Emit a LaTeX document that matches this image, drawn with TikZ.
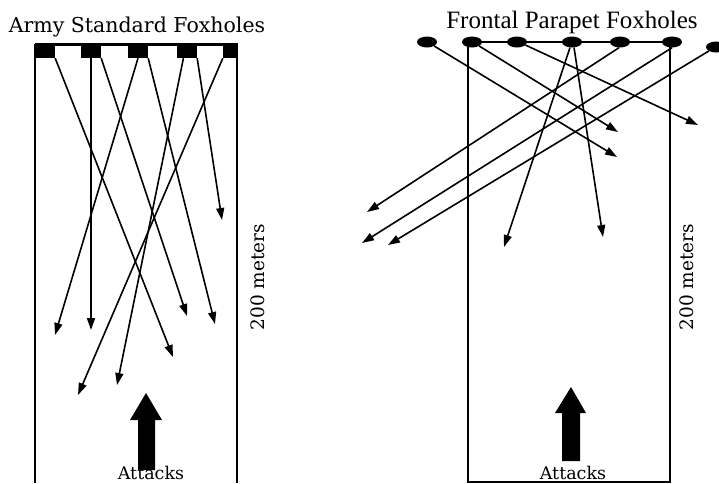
\documentclass[tikz,border=0pt]{standalone}
\usepackage{fontspec}
\setmainfont{DejaVu Serif}
\newfontfamily\timesfont{Liberation Serif}
\usetikzlibrary{arrows.meta,shapes.geometric}

\begin{document}
\begin{tikzpicture}[x=1pt,y=-1pt,
    hole/.style={fill=black,inner sep=0pt,minimum width=20pt,minimum height=15pt},
    pit/.style={ellipse,fill=black,inner sep=0pt,minimum width=20pt,minimum height=11pt},
    shot/.style={line width=1.6pt,-{Triangle[length=12pt,width=8pt]}},
    wall/.style={line width=1.5pt},
    dist/.style={rotate=90,font=\fontsize{18.5}{18}\selectfont},
    attack/.style={anchor=base,font=\fontsize{17.5}{17}\selectfont}]
    \useasboundingbox (0,0) rectangle (719,483);

    % Titles
    \node[anchor=base,font=\fontsize{20.5}{20}\selectfont] (titleL) at (137,32) {Army Standard Foxholes};
    \node[anchor=base,font=\timesfont\fontsize{25}{25}\selectfont] (titleR) at (572,28) {Frontal Parapet Foxholes};

    % Army standard: lane and foxholes
    \draw[line width=3pt] (35,44.5) -- (237,44.5);
    \draw[wall] (35,44) -- (35,483);
    \draw[wall] (237,44) -- (237,483);
    \node[hole] (a1) at (45,50.5) {};
    \node[hole] (a2) at (91,50.5) {};
    \node[hole] (a3) at (138,50.5) {};
    \node[hole] (a4) at (187,50.5) {};
    \node[hole,minimum width=15pt] (a5) at (230.5,50.5) {};

    % Army standard: fields of fire
    \coordinate (t1) at (173,357);
    \coordinate (t2) at (91,330);
    \coordinate (t3) at (187,316);
    \coordinate (t4) at (55,335);
    \coordinate (t5) at (215,324);
    \coordinate (t6) at (117,385);
    \coordinate (t7) at (222,220);
    \coordinate (t8) at (78,395);
    \draw[shot] (a1.south east) -- (t1);
    \draw[shot] (a2.south) -- (t2);
    \draw[shot] (a2.south east) -- (t3);
    \draw[shot] (a3.south) -- (t4);
    \draw[shot] (a3.south east) -- (t5);
    \draw[shot] (a4.-115) -- (t6);
    \draw[shot] (a4.south east) -- (t7);
    \draw[shot] (a5.south west) -- (t8);

    % Frontal parapet: lane and foxholes
    \draw[wall] (468,42) rectangle (670,482);
    \node[pit] (b1) at (427,42) {};
    \node[pit] (b2) at (472,42) {};
    \node[pit] (b3) at (517,42) {};
    \node[pit] (b4) at (572,42) {};
    \node[pit] (b5) at (620,42) {};
    \node[pit] (b6) at (672,42) {};
    \node[pit] (b7) at (716,47) {};

    % Frontal parapet: fields of fire
    \coordinate (s1) at (617,157);
    \coordinate (s2) at (618,132);
    \coordinate (s3) at (698,125);
    \coordinate (s4) at (504,247);
    \coordinate (s5) at (603,237);
    \coordinate (s6) at (367,212);
    \coordinate (s7) at (362,243);
    \coordinate (s8) at (388,245);
    \draw[shot] (b1.south east) -- (s1);
    \draw[shot] (b2.south east) -- (s2);
    \draw[shot] (b3.-20) -- (s3);
    \draw[shot] (b4.-110) -- (s4);
    \draw[shot] (b4.-70) -- (s5);
    \draw[shot] (b5.-100) -- (s6);
    \draw[shot] (b6.south) -- (s7);
    \draw[shot] (b7.south west) -- (s8);

    % Range labels
    \node[dist] (rangeL) at (258,277) {200 meters};
    \node[dist] (rangeR) at (687,277) {200 meters};

    % Direction of attack
    \node[attack] (atkL) at (151,479) {Attacks};
    \node[attack] (atkR) at (573,479) {Attacks};
    \fill (146,393) -- (162,420) -- (155,420) -- (155,470) -- (138,470) -- (138,420) -- (130,420) -- cycle;
    \fill (571,387) -- (586,413) -- (580,413) -- (580,461) -- (562,461) -- (562,413) -- (555,413) -- cycle;
\end{tikzpicture}
\end{document}
